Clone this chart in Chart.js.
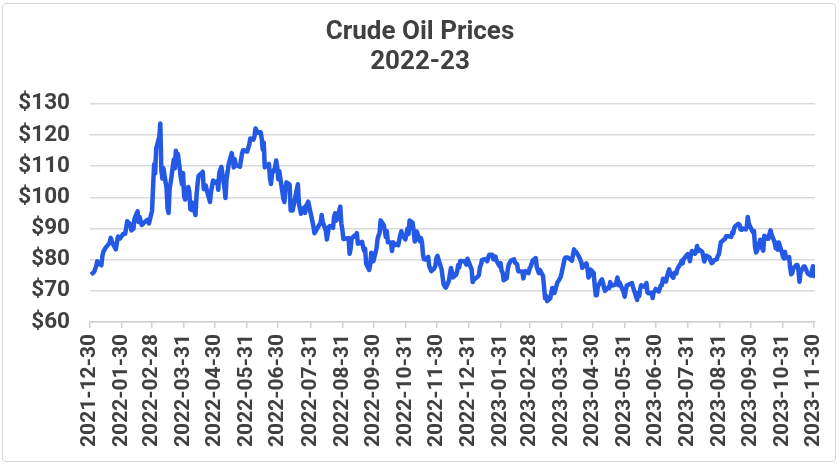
<!DOCTYPE html>
<html>
<head>
<meta charset="utf-8">
<script src="https://cdn.jsdelivr.net/npm/chart.js@4.4.0/dist/chart.umd.min.js"></script>
<style>
  body { margin: 0; background: #fff; }
  #wrap { position: relative; width: 840px; height: 466px; }
  #frame { position: absolute; left: 2px; top: 3px; width: 832px; height: 457px; border: 1.5px solid #d6d6d6; border-radius: 4px; pointer-events: none; }
</style>
</head>
<body>
<div id="wrap">
  <canvas id="myChart" width="840" height="466"></canvas>
  <div id="frame"></div>
</div>
<script>
// WTI crude, daily close (USD / barrel)
var fechas = [
 '2021-12-31','2022-01-03','2022-01-05','2022-01-06','2022-01-07','2022-01-10','2022-01-11','2022-01-12','2022-01-14','2022-01-18',
 '2022-01-19','2022-01-21','2022-01-24','2022-01-26','2022-01-28','2022-01-31','2022-02-02','2022-02-03','2022-02-04','2022-02-07',
 '2022-02-08','2022-02-10','2022-02-11','2022-02-14','2022-02-15','2022-02-16','2022-02-18','2022-02-22','2022-02-24','2022-02-25',
 '2022-02-28','2022-03-01','2022-03-02','2022-03-03','2022-03-04','2022-03-07','2022-03-08','2022-03-09','2022-03-10','2022-03-11',
 '2022-03-14','2022-03-15','2022-03-16','2022-03-17','2022-03-18','2022-03-21','2022-03-22','2022-03-23','2022-03-24','2022-03-25',
 '2022-03-28','2022-03-29','2022-03-30','2022-03-31','2022-04-01','2022-04-04','2022-04-05','2022-04-06','2022-04-07','2022-04-08',
 '2022-04-11','2022-04-12','2022-04-13','2022-04-14','2022-04-18','2022-04-19','2022-04-21','2022-04-22','2022-04-25','2022-04-26',
 '2022-04-28','2022-04-29','2022-05-02','2022-05-03','2022-05-04','2022-05-06','2022-05-09','2022-05-10','2022-05-11','2022-05-13',
 '2022-05-16','2022-05-17','2022-05-18','2022-05-19','2022-05-20','2022-05-24','2022-05-26','2022-05-27','2022-05-31','2022-06-02',
 '2022-06-03','2022-06-06','2022-06-07','2022-06-08','2022-06-09','2022-06-10','2022-06-13','2022-06-14','2022-06-15','2022-06-16',
 '2022-06-17','2022-06-21','2022-06-22','2022-06-23','2022-06-24','2022-06-27','2022-06-28','2022-06-29','2022-06-30','2022-07-01',
 '2022-07-05','2022-07-06','2022-07-07','2022-07-08','2022-07-11','2022-07-12','2022-07-14','2022-07-15','2022-07-18','2022-07-19',
 '2022-07-20','2022-07-22','2022-07-25','2022-07-26','2022-07-27','2022-07-29','2022-08-01','2022-08-03','2022-08-04','2022-08-05',
 '2022-08-08','2022-08-10','2022-08-11','2022-08-12','2022-08-15','2022-08-16','2022-08-18','2022-08-19','2022-08-22','2022-08-23',
 '2022-08-24','2022-08-25','2022-08-26','2022-08-29','2022-08-30','2022-08-31','2022-09-01','2022-09-06','2022-09-07','2022-09-08',
 '2022-09-09','2022-09-12','2022-09-13','2022-09-14','2022-09-15','2022-09-19','2022-09-21','2022-09-22','2022-09-23','2022-09-26',
 '2022-09-27','2022-09-28','2022-09-29','2022-09-30','2022-10-03','2022-10-04','2022-10-05','2022-10-06','2022-10-07','2022-10-10',
 '2022-10-11','2022-10-12','2022-10-13','2022-10-14','2022-10-17','2022-10-18','2022-10-19','2022-10-20','2022-10-21','2022-10-24',
 '2022-10-26','2022-10-27','2022-10-28','2022-10-31','2022-11-01','2022-11-02','2022-11-03','2022-11-04','2022-11-07','2022-11-08',
 '2022-11-09','2022-11-10','2022-11-11','2022-11-14','2022-11-15','2022-11-16','2022-11-17','2022-11-18','2022-11-21','2022-11-22',
 '2022-11-23','2022-11-25','2022-11-28','2022-11-29','2022-11-30','2022-12-01','2022-12-02','2022-12-05','2022-12-06','2022-12-07',
 '2022-12-08','2022-12-09','2022-12-12','2022-12-13','2022-12-14','2022-12-15','2022-12-16','2022-12-19','2022-12-20','2022-12-21',
 '2022-12-22','2022-12-23','2022-12-27','2022-12-29','2022-12-30','2023-01-03','2023-01-04','2023-01-05','2023-01-06','2023-01-09',
 '2023-01-10','2023-01-11','2023-01-12','2023-01-13','2023-01-17','2023-01-18','2023-01-20','2023-01-23','2023-01-24','2023-01-26',
 '2023-01-27','2023-01-30','2023-01-31','2023-02-01','2023-02-02','2023-02-03','2023-02-06','2023-02-07','2023-02-08','2023-02-10',
 '2023-02-13','2023-02-14','2023-02-16','2023-02-17','2023-02-21','2023-02-22','2023-02-23','2023-02-24','2023-02-27','2023-02-28',
 '2023-03-01','2023-03-03','2023-03-06','2023-03-07','2023-03-08','2023-03-09','2023-03-10','2023-03-13','2023-03-14','2023-03-15',
 '2023-03-16','2023-03-17','2023-03-20','2023-03-21','2023-03-22','2023-03-23','2023-03-24','2023-03-27','2023-03-28','2023-03-30',
 '2023-03-31','2023-04-03','2023-04-04','2023-04-06','2023-04-10','2023-04-11','2023-04-12','2023-04-13','2023-04-14','2023-04-17',
 '2023-04-19','2023-04-20','2023-04-21','2023-04-24','2023-04-25','2023-04-26','2023-04-27','2023-04-28','2023-05-01','2023-05-02',
 '2023-05-03','2023-05-04','2023-05-05','2023-05-08','2023-05-09','2023-05-10','2023-05-11','2023-05-12','2023-05-15','2023-05-16',
 '2023-05-17','2023-05-18','2023-05-19','2023-05-22','2023-05-23','2023-05-24','2023-05-25','2023-05-26','2023-05-30','2023-05-31',
 '2023-06-01','2023-06-02','2023-06-05','2023-06-07','2023-06-08','2023-06-09','2023-06-12','2023-06-13','2023-06-14','2023-06-15',
 '2023-06-16','2023-06-20','2023-06-21','2023-06-22','2023-06-23','2023-06-26','2023-06-27','2023-06-28','2023-06-29','2023-06-30',
 '2023-07-03','2023-07-05','2023-07-06','2023-07-07','2023-07-10','2023-07-11','2023-07-12','2023-07-13','2023-07-14','2023-07-17',
 '2023-07-18','2023-07-20','2023-07-21','2023-07-24','2023-07-25','2023-07-26','2023-07-27','2023-07-28','2023-07-31','2023-08-01',
 '2023-08-02','2023-08-03','2023-08-04','2023-08-07','2023-08-08','2023-08-09','2023-08-10','2023-08-11','2023-08-14','2023-08-15',
 '2023-08-16','2023-08-17','2023-08-18','2023-08-21','2023-08-22','2023-08-23','2023-08-24','2023-08-25','2023-08-28','2023-08-29',
 '2023-08-30','2023-08-31','2023-09-01','2023-09-05','2023-09-06','2023-09-08','2023-09-11','2023-09-12','2023-09-13','2023-09-14',
 '2023-09-15','2023-09-18','2023-09-19','2023-09-20','2023-09-21','2023-09-22','2023-09-25','2023-09-26','2023-09-27','2023-09-28',
 '2023-09-29','2023-10-02','2023-10-03','2023-10-04','2023-10-05','2023-10-06','2023-10-09','2023-10-10','2023-10-11','2023-10-12',
 '2023-10-13','2023-10-16','2023-10-17','2023-10-18','2023-10-19','2023-10-20','2023-10-23','2023-10-24','2023-10-25','2023-10-26',
 '2023-10-27','2023-10-30','2023-10-31','2023-11-01','2023-11-02','2023-11-03','2023-11-06','2023-11-07','2023-11-08','2023-11-09',
 '2023-11-10','2023-11-13','2023-11-14','2023-11-15','2023-11-16','2023-11-17','2023-11-20','2023-11-21','2023-11-22','2023-11-24',
 '2023-11-27','2023-11-28','2023-11-29','2023-11-30','2023-12-01'
];
var precios = [
 75.2,76.1,77.9,79.5,78.9,78.2,81.2,82.6,83.8,85.4,
 87.0,85.1,83.3,87.4,86.8,88.2,88.3,90.3,92.3,91.3,
 89.4,89.9,93.1,95.5,92.1,93.7,91.1,92.4,92.8,91.6,
 95.7,103.4,110.6,107.7,115.7,119.4,123.7,108.7,106.0,109.3,
 103.0,96.4,95.0,102.9,104.7,112.1,109.3,114.9,112.3,113.9,
 105.9,104.2,107.8,100.3,99.3,103.3,102.0,96.2,96.0,98.3,
 94.3,100.6,104.3,106.9,108.2,102.6,103.8,102.1,98.5,101.7,
 105.4,104.7,105.2,102.4,107.8,109.8,103.1,99.8,105.7,110.5,
 114.2,112.4,109.6,112.2,110.3,109.8,114.1,115.1,114.7,116.9,
 118.9,118.5,119.4,122.1,121.5,120.7,120.9,118.9,115.3,117.6,
 109.6,110.7,106.2,104.3,107.6,109.6,111.8,109.8,105.8,108.4,
 99.5,98.5,102.7,104.8,104.1,95.8,95.8,97.6,102.6,104.2,
 98.0,94.7,96.7,95.0,97.3,98.6,93.9,90.7,88.5,89.0,
 90.8,91.9,94.3,92.1,89.4,86.5,90.5,90.8,90.2,93.7,
 94.9,92.5,93.1,97.0,91.6,89.6,86.6,86.9,81.9,83.5,
 86.8,87.8,87.3,88.5,85.1,85.7,82.9,83.5,78.7,76.7,
 78.5,82.2,81.2,79.5,83.6,86.5,87.8,88.5,92.6,91.1,
 89.4,87.3,89.1,85.6,85.5,82.8,85.6,84.5,85.1,84.6,
 87.9,89.1,87.9,86.5,88.4,90.0,88.2,92.6,91.8,89.0,
 85.8,86.5,89.0,85.9,86.9,85.6,81.6,80.1,80.0,80.9,
 77.9,76.3,77.2,78.2,80.6,81.2,80.0,76.9,74.3,72.0,
 71.5,71.0,73.2,75.4,77.3,76.1,74.3,75.2,76.2,78.3,
 77.5,79.6,79.5,78.4,80.3,76.9,72.8,73.7,73.8,74.6,
 75.1,77.4,78.4,79.9,80.2,79.5,81.6,81.6,80.1,81.0,
 79.7,77.9,78.9,76.4,75.9,73.4,74.1,77.1,78.5,79.7,
 80.1,79.1,78.5,76.3,76.2,74.0,75.4,76.3,75.7,77.1,
 77.7,79.7,80.5,77.6,76.7,75.7,76.7,74.8,71.3,67.6,
 68.4,66.7,67.6,69.3,70.9,70.0,69.3,72.8,73.2,74.4,
 75.7,80.4,80.7,80.7,79.7,81.5,83.3,82.2,82.5,80.8,
 79.2,77.4,77.9,78.8,77.1,74.3,74.8,76.8,75.7,71.7,
 68.6,68.6,71.3,73.2,73.7,72.6,70.9,70.0,71.1,70.9,
 72.8,71.9,71.7,72.0,72.9,74.3,71.8,72.7,69.5,68.1,
 70.1,71.7,72.2,72.5,71.3,70.2,67.1,69.4,68.3,70.6,
 71.8,71.2,72.5,69.5,69.2,69.4,67.7,69.6,69.9,70.6,
 69.8,71.8,71.8,73.9,73.0,74.8,75.8,76.9,75.4,74.2,
 75.8,75.6,77.1,78.7,79.6,78.8,80.1,80.6,81.8,81.4,
 79.5,81.6,82.8,81.9,82.9,84.4,82.8,83.2,82.5,81.0,
 79.4,80.4,81.3,80.7,79.6,78.9,79.1,79.8,80.1,81.2,
 81.6,83.6,85.6,86.7,87.5,87.5,87.3,88.8,88.5,90.2,
 90.8,91.5,91.2,89.7,89.6,90.0,89.7,90.4,93.7,91.7,
 90.8,88.8,89.2,84.2,82.3,82.8,86.4,86.0,83.5,82.9,
 87.7,86.7,86.7,88.3,89.4,88.1,85.5,83.7,85.4,83.2,
 85.5,82.3,81.0,80.4,82.5,80.5,80.8,77.4,75.3,75.7,
 77.2,78.3,78.3,76.7,72.9,75.9,77.8,77.8,77.1,75.5,
 74.9,76.4,77.9,75.9,74.1
];
var etiquetasX = [
 '2021-12-30','2022-01-30','2022-02-28','2022-03-31','2022-04-30','2022-05-31','2022-06-30','2022-07-31',
 '2022-08-31','2022-09-30','2022-10-31','2022-11-30','2022-12-31','2023-01-31','2023-02-28','2023-03-31',
 '2023-04-30','2023-05-31','2023-06-30','2023-07-31','2023-08-31','2023-09-30','2023-10-31','2023-11-30'
];
var ticksY = [60,70,80,90,100,110,120,130];

var inicio = Date.UTC(2021, 11, 30);
function dia(s) {
  var p = s.split('-');
  return Math.round((Date.UTC(+p[0], +p[1] - 1, +p[2]) - inicio) / 86400000);
}

var puntos = fechas.map(function (f, i) { return { x: dia(f), y: precios[i] }; });
var ticksX = etiquetasX.map(dia);
var gris = '#404040';
var fuente = 'Roboto, "DejaVu Sans", sans-serif';

// el titulo va centrado en todo el lienzo, no solo en el area sin padding
var centrarTitulo = {
  id: 'centrarTitulo',
  afterLayout: function (c) {
    if (c.titleBlock) { c.titleBlock.left = 0; c.titleBlock.right = c.width; c.titleBlock.width = c.width; }
  }
};

var ctx = document.getElementById('myChart').getContext('2d');
var chart = new Chart(ctx, {
  type: 'line',
  data: {
    datasets: [{
      label: 'Crude Oil',
      data: puntos,
      borderColor: '#2459e6',
      borderWidth: 4.5,
      borderJoinStyle: 'round',
      pointRadius: 0,
      tension: 0,
      fill: false
    }]
  },
  plugins: [centrarTitulo],
  options: {
    responsive: false,
    animation: false,
    devicePixelRatio: 1,
    layout: { padding: { left: 0, right: 25, top: 0, bottom: 0 } },
    plugins: {
      legend: { display: false },
      tooltip: { enabled: false },
      title: {
        display: true,
        text: ['Crude Oil Prices', '2022-23'],
        color: gris,
        font: { family: fuente, size: 26, weight: 'bold', lineHeight: 1.15 },
        padding: { top: 18, bottom: 26 }
      }
    },
    scales: {
      x: {
        type: 'linear',
        min: 0,
        max: 701,
        afterBuildTicks: function (s) { s.ticks = ticksX.map(function (v) { return { value: v }; }); },
        afterFit: function (s) { s.height = 144; s.paddingLeft = 0; s.paddingRight = 0; },
        grid: { drawOnChartArea: false, color: '#d0d0d0', lineWidth: 1.5, tickLength: 6 },
        border: { color: '#d0d0d0', width: 1.5 },
        ticks: {
          autoSkip: false,
          minRotation: 90,
          maxRotation: 90,
          padding: 6,
          color: gris,
          font: { family: fuente, size: 21, weight: 'bold' },
          callback: function (v, i) { return etiquetasX[i]; }
        }
      },
      y: {
        min: 60,
        max: 130,
        afterBuildTicks: function (s) { s.ticks = ticksY.map(function (v) { return { value: v }; }); },
        afterFit: function (s) { s.width = 90; },
        grid: { color: '#dadada', lineWidth: 1.5, drawTicks: false },
        border: { display: false },
        ticks: {
          padding: 20,
          color: gris,
          font: { family: fuente, size: 22.5, weight: 'bold' },
          callback: function (v) { return '$' + v; }
        }
      }
    }
  }
});
</script>
</body>
</html>
